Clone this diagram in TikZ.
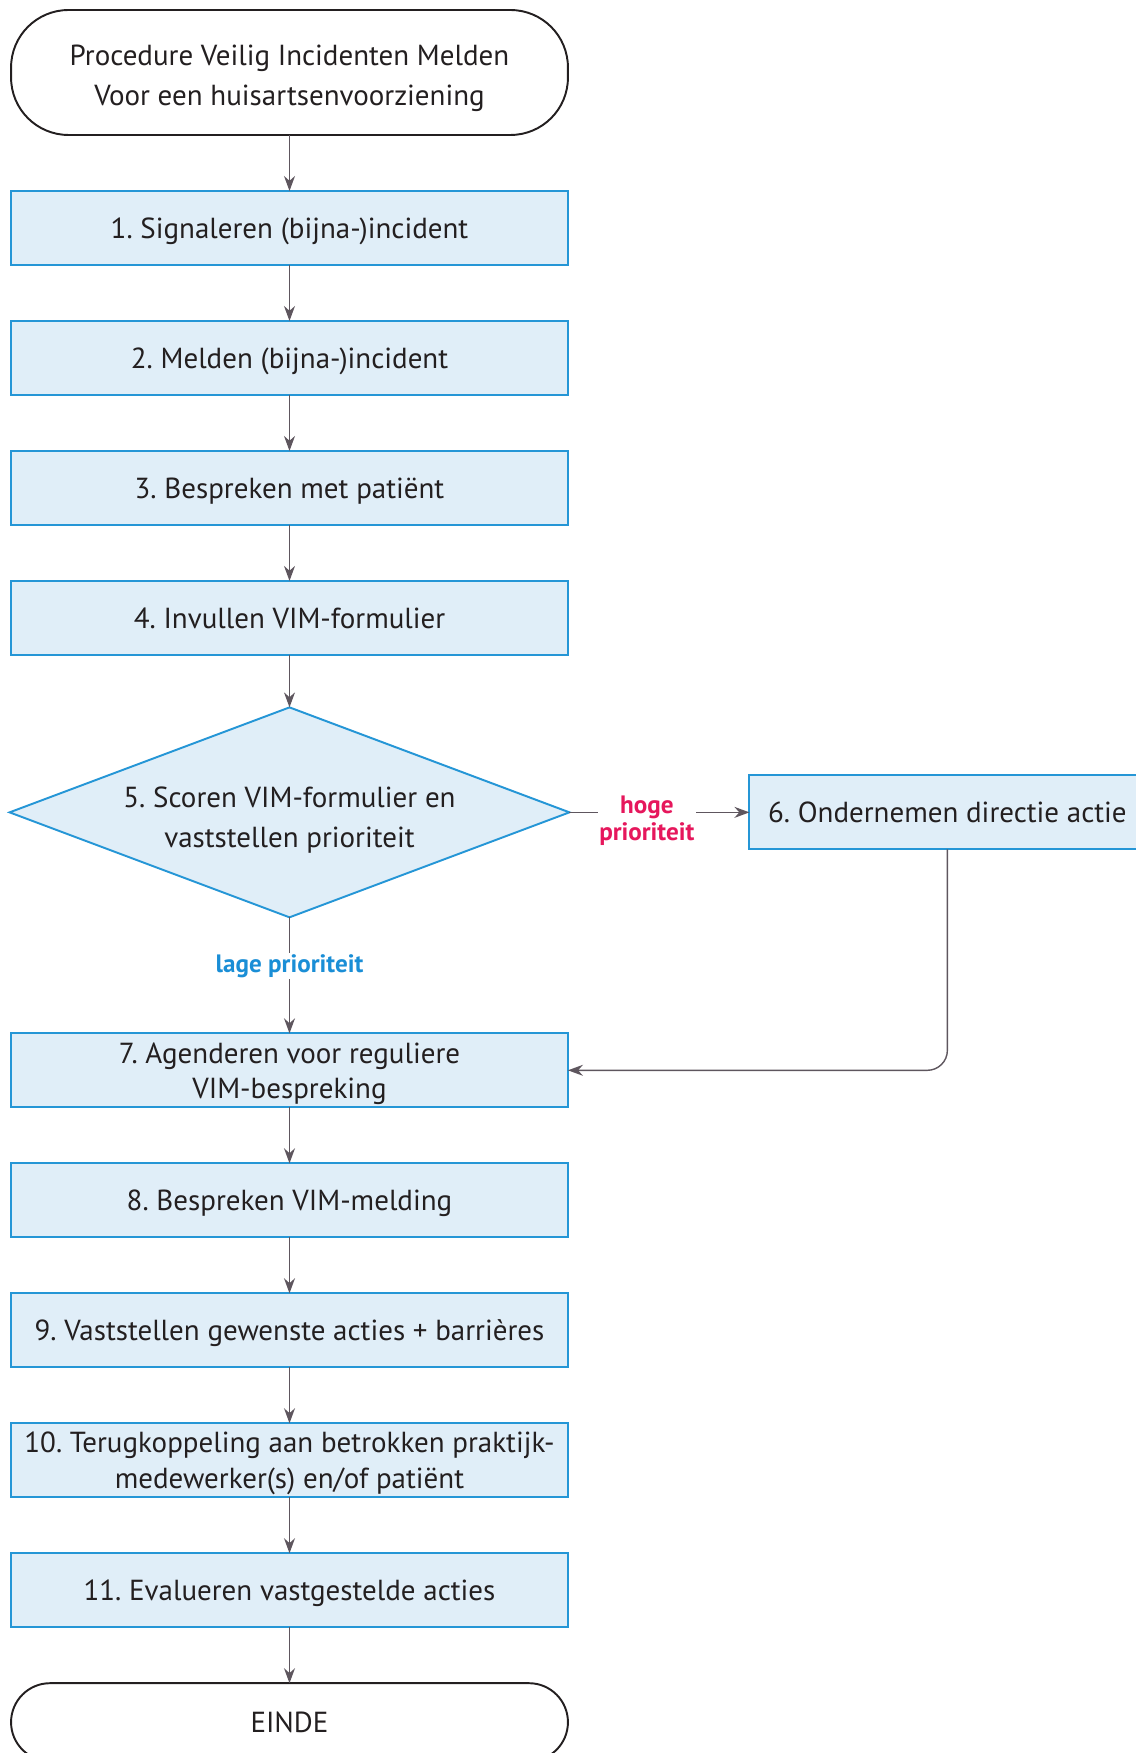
\documentclass[tikz,border=0pt]{standalone}
\usepackage{fontspec}
\setmainfont{PT Sans}
\usetikzlibrary{arrows.meta,positioning,shapes.geometric}
\definecolor{vimline}{HTML}{2596D6}
\definecolor{vimfill}{HTML}{E0EEF8}
\definecolor{vimarrow}{HTML}{5E565E}
\definecolor{vimtext}{HTML}{231F20}
\definecolor{vimhigh}{HTML}{E6175C}
\definecolor{vimlow}{HTML}{1A8ED6}

\begin{document}
\frenchspacing
\begin{tikzpicture}[
  x=0.02cm, y=-0.02cm,
  node distance=1.12cm,
  every node/.style={text=vimtext,outer sep=0pt},
  stepbox/.style={draw=vimline,fill=vimfill,line width=1.1pt,minimum width=11.14cm,minimum height=1.48cm,inner sep=0pt,text depth=0pt,align=center,font=\fontsize{16.5}{20}\selectfont},
  term/.style={draw=vimtext,line width=1.1pt,minimum width=11.14cm,text depth=0pt,align=center,font=\fontsize{16.5}{23}\selectfont},
  choice/.style={stepbox,diamond,aspect=2.667,minimum width=11.2cm,minimum height=4.2cm,font=\fontsize{16.5}{23}\selectfont},
  arr/.style={-{Stealth[length=3mm,width=2.2mm]},draw=vimarrow,line width=0.8pt},
  prio/.style={fill=white,font=\bfseries\fontsize{14.3}{15.5}\selectfont,align=center,inner sep=1pt}
]
\useasboundingbox (0,0) rectangle (1135,1753);

\node[term,minimum height=2.5cm,rounded corners=1.15cm] (start) at (289.5,72.5) {\rule{0pt}{15pt}Procedure Veilig Incidenten Melden\\Voor een huisartsenvoorziening};
\node[stepbox,below=of start] (s1) {1. Signaleren (bijna-)incident};
\node[stepbox,below=of s1] (s2) {2. Melden (bijna-)incident};
\node[stepbox,below=of s2] (s3) {3. Bespreken met patiënt};
\node[stepbox,below=of s3] (s4) {4. Invullen VIM-formulier};
\node[choice,below=1.05cm of s4] (s5) {\rule{0pt}{17pt}5. Scoren VIM-formulier en\\vaststellen prioriteit};
\node[stepbox,minimum width=7.92cm,right=3.6cm of s5] (s6) {6. Ondernemen directie actie};
\node[stepbox,below=2.32cm of s5] (s7) {7. Agenderen voor reguliere\\VIM-bespreking};
\node[stepbox,below=of s7] (s8) {8. Bespreken VIM-melding};
\node[stepbox,below=of s8] (s9) {9. Vaststellen gewenste acties + barrières};
\node[stepbox,below=of s9] (s10) {10. Terugkoppeling aan betrokken praktijk-\\medewerker(s) en/of patiënt};
\node[stepbox,below=of s10] (s11) {11. Evalueren vastgestelde acties};
\node[term,minimum height=1.56cm,rounded corners=0.78cm,below=of s11] (stop) {EINDE};

\draw[arr] (start)--(s1); \draw[arr] (s1)--(s2); \draw[arr] (s2)--(s3); \draw[arr] (s3)--(s4);
\draw[arr] (s4)--(s5);
\draw[arr] (s5.east) -- node[prio,text=vimhigh,pos=0.43,yshift=-0.16cm]{hoge\\prioriteit} (s6.west);
\draw[arr] (s5.south) -- node[prio,text=vimlow,pos=0.42]{lage prioriteit} (s7.north);
\draw[arr,rounded corners=0.4cm] (s6.south) |- (s7.east);
\draw[arr] (s7)--(s8); \draw[arr] (s8)--(s9); \draw[arr] (s9)--(s10); \draw[arr] (s10)--(s11);
\draw[arr] (s11)--(stop);
\end{tikzpicture}
\end{document}
